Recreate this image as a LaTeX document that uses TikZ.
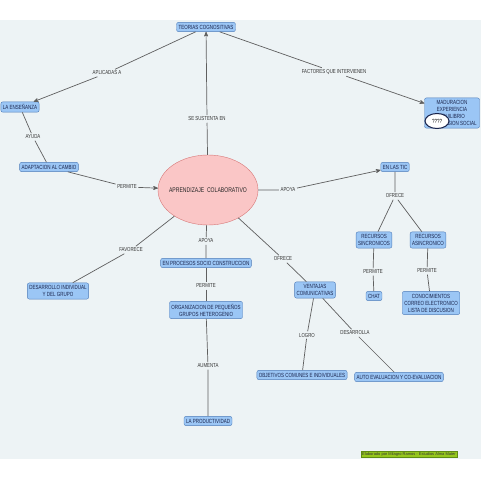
\documentclass[tikz,border=0pt]{standalone}
\usepackage{fontspec}
\newfontfamily\mapfont[FakeStretch=0.75]{Liberation Sans}
\newfontfamily\notefont{Liberation Sans}
\usetikzlibrary{positioning}
\usetikzlibrary{arrows}
\usetikzlibrary{shapes.geometric}
\definecolor{mapbg}{RGB}{237,243,245}
\definecolor{boxfill}{RGB}{155,198,245}
\definecolor{boxline}{RGB}{80,125,185}
\definecolor{boxtext}{RGB}{25,35,75}
\definecolor{linkgray}{RGB}{95,95,95}
\definecolor{ellfill}{RGB}{250,198,198}
\definecolor{ellline}{RGB}{215,120,120}
\definecolor{notefill}{RGB}{150,200,30}
\definecolor{noteline}{RGB}{95,140,20}
\tikzset{>=stealth'}
\tikzset{concept/.style={draw=boxline,fill=boxfill,rounded corners=2pt,text=boxtext,align=center,inner xsep=2pt,inner ysep=2.5pt,font=\mapfont\fontsize{6}{7}\selectfont}}
\tikzset{lbl/.style={fill=mapbg,text=black!80,inner sep=1.5pt,font=\mapfont\fontsize{5.8}{7}\selectfont}}
\tikzset{link/.style={draw=linkgray,line width=0.7pt}}

\begin{document}
\begin{tikzpicture}[x=1pt,y=-1pt]
    \useasboundingbox (0,0) rectangle (481,481);
    \fill[mapbg] (0,20) rectangle (481,459);

    % concepts
    \node[concept] (teorias) at (206,27) {TEORIAS COGNOSITIVAS};
    \node[concept] (ensenanza) at (20,107) {LA ENSEÑANZA};
    \node[concept] (adaptacion) at (49,167) {ADAPTACION AL CAMBIO};
    \node[ellipse,draw=ellline,fill=ellfill,inner sep=0pt,minimum width=100,minimum height=70,
      label={[text=black!85,font=\mapfont\fontsize{6.8}{8}\selectfont]center:APRENDIZAJE\ \ COLABORATIVO}] (aprend) at (208,190) {};
    \node[concept,minimum width=55] (factores) at (452,113) {MADURACION\\EXPERIENCIA\\EQUILIBRIO\\TRANSMISION SOCIAL};
    \node[ellipse,draw=boxtext,fill=white,line width=1pt,inner sep=0pt,minimum width=24,minimum height=15,font=\mapfont\fontsize{6}{7}\selectfont] (dudas) at (437,121) {????};
    \node[concept] (tic) at (395,167) {EN LAS TIC};
    \node[concept] (sincro) at (374,240) {RECURSOS\\SINCRONICOS};
    \node[concept] (asincro) at (428,240) {RECURSOS\\ASINCRONICO};
    \node[concept] (chat) at (374,296) {CHAT};
    \node[concept] (conoc) at (431,303) {CONOCIMIENTOS\\CORREO ELECTRONICO\\LISTA DE DISCUSION};
    \node[concept] (procesos) at (206,263) {EN PROCESOS SOCIO CONSTRUCCION};
    \node[concept] (grupos) at (206,310) {ORGANIZACION DE PEQUEÑOS\\GRUPOS HETEROGENIO};
    \node[concept] (product) at (208,421) {LA PRODUCTIVIDAD};
    \node[concept] (desarrollo) at (58,291) {DESARROLLO INDIVIDUAL\\Y DEL GRUPO};
    \node[concept] (ventajas) at (315,290) {VENTAJAS\\COMUNICATIVAS};
    \node[concept] (objetivos) at (302,375) {OBJETIVOS COMUNES E INDIVIDUALES};
    \node[concept] (autoeval) at (399,377) {AUTO EVALUACION Y CO-EVALUACION};

    % linking phrases
    \node[lbl] (aplicadas) at (107,73) {APLICADAS A};
    \node[lbl] (sustenta) at (207,119) {SE SUSTENTA EN};
    \node[lbl] (intervienen) at (334,72) {FACTORES QUE INTERVIENEN};
    \node[lbl] (ayuda) at (33,137) {AYUDA};
    \node[lbl] (permiteA) at (127,187) {PERMITE};
    \node[lbl] (apoyaA) at (288,190) {APOYA};
    \node[lbl] (ofreceA) at (395,196) {OFRECE};
    \node[lbl] (permiteB) at (373,272) {PERMITE};
    \node[lbl] (permiteC) at (427,271) {PERMITE};
    \node[lbl] (favorece) at (131,250) {FAVORECE};
    \node[lbl] (apoyaB) at (206,241) {APOYA};
    \node[lbl] (permiteD) at (206,286) {PERMITE};
    \node[lbl] (aumenta) at (208,366) {AUMENTA};
    \node[lbl] (ofreceB) at (283,259) {OFRECE};
    \node[lbl] (logro) at (307,335) {LOGRO};
    \node[lbl] (desarrolla) at (355,333) {DESARROLLA};

    % links
    \draw[link,->] (teorias) -- (aplicadas) -- (ensenanza);
    \draw[link,->] (aprend) -- (sustenta) -- (teorias);
    \draw[link,->] (teorias) -- (intervienen) -- (factores);
    \draw[link] (ensenanza) -- (ayuda) -- (adaptacion);
    \draw[link,->] (adaptacion) -- (permiteA) -- (aprend);
    \draw[link,->] (aprend) -- (apoyaA) -- (tic);
    \draw[link] (tic) -- (ofreceA) -- (sincro);
    \draw[link] (ofreceA) -- (asincro);
    \draw[link] (sincro) -- (permiteB) -- (chat);
    \draw[link] (asincro) -- (permiteC) -- (conoc);
    \draw[link] (aprend) -- (favorece) -- (desarrollo);
    \draw[link] (aprend) -- (apoyaB) -- (procesos);
    \draw[link] (procesos) -- (permiteD) -- (grupos);
    \draw[link] (grupos) -- (aumenta) -- (product);
    \draw[link] (aprend) -- (ofreceB) -- (ventajas);
    \draw[link] (ventajas) -- (logro) -- (objetivos);
    \draw[link] (ventajas) -- (desarrolla) -- (autoeval);

    \node[draw=noteline,fill=notefill,text=black!80,inner xsep=1.5pt,inner ysep=1pt,font=\notefont\fontsize{4}{5}\selectfont] (nota) at (409,454.5) {Elaborado por Milagro Ramos - Estudios Alma Mater};
\end{tikzpicture}
\end{document}
